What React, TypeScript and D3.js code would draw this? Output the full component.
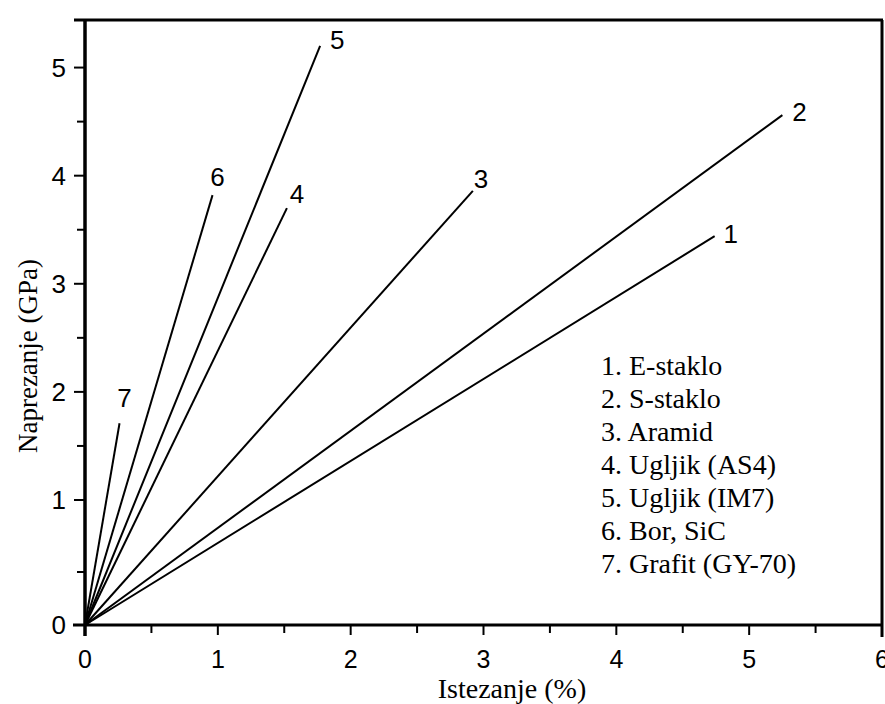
import React from "react";
import * as d3 from "d3";

const seriesIds = ["1", "2", "3", "4", "5", "6", "7"];
const seriesNames = [
  "1. E-staklo",
  "2. S-staklo",
  "3. Aramid",
  "4. Ugljik (AS4)",
  "5. Ugljik (IM7)",
  "6. Bor, SiC",
  "7. Grafit (GY-70)",
];
const endStrain = [4.74, 5.25, 2.92, 1.52, 1.77, 0.96, 0.26];
const endStress = [3.44, 4.56, 3.86, 3.7, 5.2, 3.82, 1.71];

const xTicks = [0, 1, 2, 3, 4, 5, 6];
const xMinor = [0.5, 1.5, 2.5, 3.5, 4.5, 5.5];
const yTicks = [0, 1, 2, 3, 4, 5];
const yMinor = [0.5, 1.5, 2.5, 3.5, 4.5];

const xTitle = "Istezanje (%)";
const yTitle = "Naprezanje (GPa)";

export default function App() {
  const x = d3.scaleLinear().domain([0, 6]).range([85, 882]);
  const y = d3.scaleLinear().domain([0, 0.5, 1, 5.44]).range([625, 572, 500, 20]);
  const line = d3.line<[number, number]>().x((d) => x(d[0])).y((d) => y(d[1]));

  const sans = "'Liberation Sans', Arial, sans-serif";
  const serif = "'Liberation Serif', 'Times New Roman', serif";

  const labelOffsets: [number, number][] = [
    [16, -2],
    [17, -3],
    [8, -12],
    [10, -14],
    [17, -6],
    [5, -18],
    [5, -25],
  ];

  return (
    <svg
      width={885}
      height={704}
      style={{ position: "absolute", left: 0, top: 0, background: "#fff" }}
    >
      <rect x={0} y={0} width={885} height={704} fill="#fff" />
      {seriesIds.map((id, i) => (
        <path
          key={id}
          d={line([
            [0, 0],
            [endStrain[i], endStress[i]],
          ]) as string}
          stroke="#000"
          strokeWidth={2}
          fill="none"
        />
      ))}
      {seriesIds.map((id, i) => (
        <text
          key={"l" + id}
          x={x(endStrain[i]) + labelOffsets[i][0]}
          y={y(endStress[i]) + labelOffsets[i][1]}
          fontFamily={sans}
          fontSize={26}
          textAnchor="middle"
          dy="0.35em"
        >
          {id}
        </text>
      ))}

      <line x1={74} x2={883} y1={y(5.44)} y2={y(5.44)} stroke="#000" strokeWidth={3} />
      <line x1={882} x2={882} y1={y(5.44)} y2={y(0) + 12} stroke="#000" strokeWidth={3} />
      <line x1={73} x2={883} y1={y(0)} y2={y(0)} stroke="#000" strokeWidth={3} />
      <line x1={x(0)} x2={x(0)} y1={y(5.44)} y2={y(0) + 11} stroke="#000" strokeWidth={3.5} />

      {xTicks.map((t) => (
        <g key={"xt" + t}>
          <line x1={x(t)} x2={x(t)} y1={y(0)} y2={y(0) + 10} stroke="#000" strokeWidth={2} />
          <text x={x(t)} y={668} fontFamily={sans} fontSize={25} textAnchor="middle">
            {t}
          </text>
        </g>
      ))}
      {xMinor.map((t) => (
        <line key={"xm" + t} x1={x(t)} x2={x(t)} y1={y(0)} y2={y(0) + 8} stroke="#000" strokeWidth={2} />
      ))}

      {yTicks.map((t) => (
        <g key={"yt" + t}>
          <line x1={x(0) - 11} x2={x(0)} y1={y(t)} y2={y(t)} stroke="#000" strokeWidth={2} />
          <text x={66} y={y(t)} dy="0.36em" fontFamily={sans} fontSize={26} textAnchor="end">
            {t}
          </text>
        </g>
      ))}
      {yMinor.map((t) => (
        <line key={"ym" + t} x1={x(0) - 8} x2={x(0)} y1={y(t)} y2={y(t)} stroke="#000" strokeWidth={2} />
      ))}

      <text x={512} y={698} fontFamily={serif} fontSize={28} textAnchor="middle">
        {xTitle}
      </text>
      <text
        transform={`translate(37, 356) rotate(-90)`}
        fontFamily={serif}
        fontSize={27}
        textAnchor="middle"
      >
        {yTitle}
      </text>

      {seriesNames.map((n, i) => (
        <text key={"lg" + i} x={601} y={375 + i * 33} fontFamily={serif} fontSize={28}>
          {n}
        </text>
      ))}
    </svg>
  );
}
